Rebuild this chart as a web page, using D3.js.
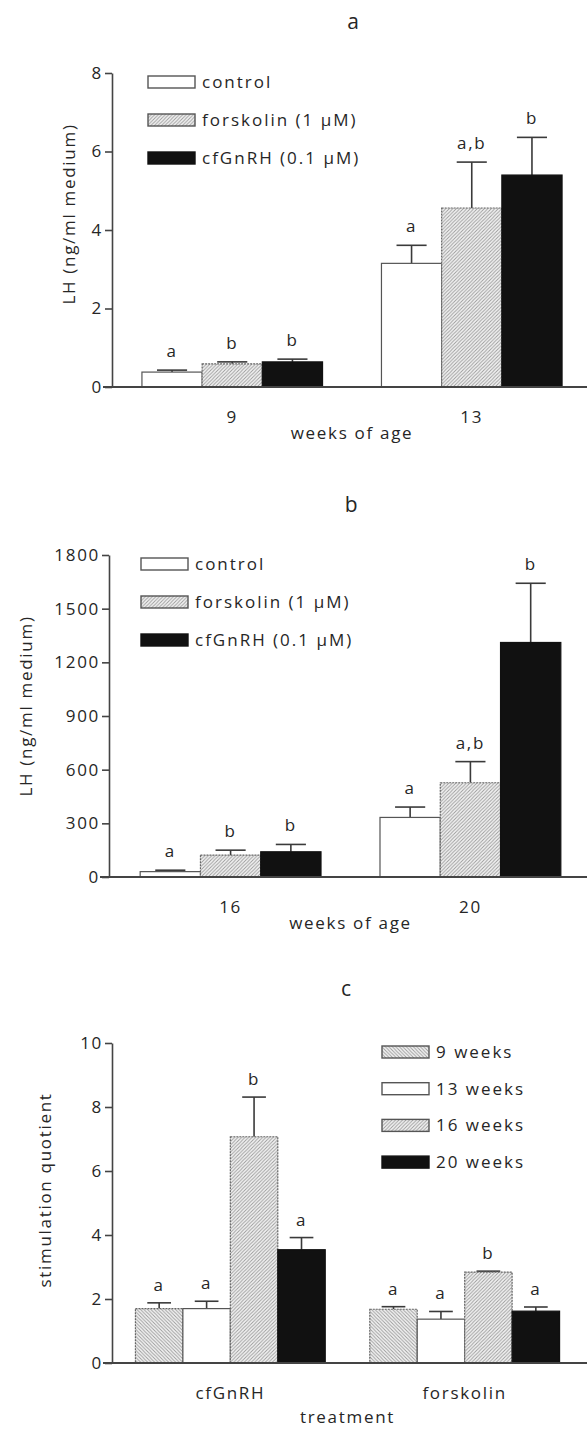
<!DOCTYPE html>
<html lang="en">
<head>
<meta charset="UTF-8">
<title>LH release</title>
<script src="https://d3js.org/d3.v7.min.js"></script>
<style>
  body { margin: 0; background: #fff; }
  svg text { font-family: "Open Sans", sans-serif; fill: #262626; letter-spacing: 1.7px; }
</style>
</head>
<body>
<div id="chart"></div>
<script>
// ---- data ----
var seriesAB = ["control", "forskolin (1 \u00b5M)", "cfGnRH (0.1 \u00b5M)"];

var groupsA = ["9", "13"];
var meanA = [[0.38, 0.59, 0.64], [3.15, 4.56, 5.40]];
var errA  = [[0.05, 0.05, 0.07], [0.46, 1.17, 0.96]];
var sigA  = [["a", "b", "b"], ["a", "a,b", "b"]];
var ticksA = [0, 2, 4, 6, 8];

var groupsB = ["16", "20"];
var meanB = [[30, 122, 141], [333, 527, 1311]];
var errB  = [[8, 28, 41], [58, 118, 331]];
var sigB  = [["a", "b", "b"], ["a", "a,b", "b"]];
var ticksB = [0, 300, 600, 900, 1200, 1500, 1800];

var seriesC = ["9 weeks", "13 weeks", "16 weeks", "20 weeks"];
var groupsC = ["cfGnRH", "forskolin"];
var meanC = [[1.70, 1.70, 7.07, 3.54], [1.68, 1.37, 2.84, 1.62]];
var errC  = [[0.18, 0.23, 1.24, 0.38], [0.08, 0.24, 0.03, 0.13]];
var sigC  = [["a", "a", "b", "a"], ["a", "a", "b", "a"]];
var ticksC = [0, 2, 4, 6, 8, 10];

var W = 587, H = 1429;
var svg = d3.select("#chart").append("svg")
  .attr("width", W).attr("height", H);

// hatch patterns
var defs = svg.append("defs");
function hatch(id, d) {
  var p = defs.append("pattern").attr("id", id)
    .attr("patternUnits", "userSpaceOnUse")
    .attr("width", 3.5).attr("height", 3.5);
  p.append("rect").attr("width", 3.5).attr("height", 3.5).attr("fill", "#f4f4f4");
  p.append("path").attr("d", d).attr("stroke", "#999").attr("stroke-width", 0.9);
}
hatch("fwd", "M-1,1 l2,-2 M0,3.5 l3.5,-3.5 M2.5,4.5 l2,-2");
hatch("back", "M-1,2.5 l2,2 M0,0 l3.5,3.5 M2.5,-1 l2,2");

var fills = {
  white: { fill: "#fff", stroke: "#555", dash: null },
  fwd:   { fill: "url(#fwd)", stroke: "#666", dash: "2,1" },
  back:  { fill: "url(#back)", stroke: "#666", dash: "2,1" },
  black: { fill: "#111", stroke: "#111", dash: null }
};

function panel(cfg) {
  var g = svg.append("g");
  var y = d3.scaleLinear().domain([0, cfg.ymax]).range([cfg.y0, cfg.y1]);
  var x0 = d3.scaleBand().domain(cfg.groups).range(cfg.xr)
    .paddingInner(cfg.padIn).paddingOuter(cfg.padOut);
  var x1 = d3.scaleBand().domain(d3.range(cfg.series.length))
    .range([0, x0.bandwidth()]);

  // title
  g.append("text").attr("x", cfg.title[1]).attr("y", cfg.title[2])
    .attr("text-anchor", "middle").style("font-size", "21px").text(cfg.title[0]);

  var rows = [];
  cfg.groups.forEach(function (gr, i) {
    cfg.series.forEach(function (s, j) {
      rows.push({ g: gr, j: j, m: cfg.mean[i][j], e: cfg.err[i][j], s: cfg.sig[i][j] });
    });
  });

  // error bars (drawn first, bar covers the lower part)
  var cap = x1.bandwidth() * 0.5;
  var eb = g.selectAll(".eb").data(rows).enter().append("g")
    .attr("stroke", "#3a3a3a").attr("stroke-width", 1.6);
  eb.append("line")
    .attr("x1", function (d) { return x0(d.g) + x1(d.j) + x1.bandwidth() / 2; })
    .attr("x2", function (d) { return x0(d.g) + x1(d.j) + x1.bandwidth() / 2; })
    .attr("y1", function (d) { return y(d.m); })
    .attr("y2", function (d) { return y(d.m + d.e); });
  eb.append("line")
    .attr("x1", function (d) { return x0(d.g) + x1(d.j) + x1.bandwidth() / 2 - cap / 2; })
    .attr("x2", function (d) { return x0(d.g) + x1(d.j) + x1.bandwidth() / 2 + cap / 2; })
    .attr("y1", function (d) { return y(d.m + d.e); })
    .attr("y2", function (d) { return y(d.m + d.e); });

  // bars
  g.selectAll(".bar").data(rows).enter().append("rect")
    .attr("x", function (d) { return x0(d.g) + x1(d.j); })
    .attr("y", function (d) { return y(d.m); })
    .attr("width", x1.bandwidth())
    .attr("height", function (d) { return y(0) - y(d.m); })
    .attr("fill", function (d) { return fills[cfg.fill[d.j]].fill; })
    .attr("stroke", function (d) { return fills[cfg.fill[d.j]].stroke; })
    .attr("stroke-dasharray", function (d) { return fills[cfg.fill[d.j]].dash; })
    .attr("stroke-width", 1.2);

  // significance letters
  g.selectAll(".sig").data(rows).enter().append("text")
    .attr("x", function (d) { return x0(d.g) + x1(d.j) + x1.bandwidth() / 2; })
    .attr("y", function (d) { return y(d.m + d.e) - cfg.sigGap; })
    .attr("text-anchor", "middle").style("font-size", "17px")
    .text(function (d) { return d.s; });

  // y axis
  var ya = g.append("g").attr("transform", "translate(" + cfg.xr[0] + ",0)")
    .call(d3.axisLeft(y).tickValues(cfg.ticks).tickFormat(d3.format("d"))
      .tickSize(7).tickSizeOuter(0).tickPadding(2));
  ya.selectAll("path, line").attr("stroke", "#444").attr("stroke-width", 1.6);
  ya.selectAll("text").style("font-size", "17px").attr("fill", "#262626")
    .style("font-family", "Open Sans, sans-serif");

  // x baseline and category labels
  g.append("line").attr("x1", cfg.xr[0] - 9).attr("x2", W)
    .attr("y1", y(0)).attr("y2", y(0))
    .attr("stroke", "#444").attr("stroke-width", 1.8);
  var xa = g.append("g").attr("transform", "translate(0," + y(0) + ")")
    .call(d3.axisBottom(x0).tickSize(0).tickPadding(cfg.xPad));
  xa.select(".domain").remove();
  xa.selectAll("text").style("font-size", "17px").attr("fill", "#262626")
    .style("font-family", "Open Sans, sans-serif");

  // axis titles
  g.append("text").attr("x", (x0(cfg.groups[0]) + x0(cfg.groups[1]) + x0.bandwidth()) / 2)
    .attr("y", y(0) + cfg.xTitleOff).attr("text-anchor", "middle")
    .style("font-size", "17px").text(cfg.xTitle);
  g.append("text")
    .attr("transform", "translate(" + cfg.yTitle[1] + "," + cfg.yTitle[2] + ") rotate(-90)")
    .attr("text-anchor", "middle").attr("dy", "0.35em")
    .style("font-size", "17px").text(cfg.yTitle[0]);

  // legend
  var lg = g.append("g");
  cfg.series.forEach(function (s, j) {
    var cy = cfg.legend.y + j * cfg.legend.step;
    var f = fills[cfg.fill[j]];
    lg.append("rect").attr("x", cfg.legend.x).attr("y", cy - 6)
      .attr("width", 47).attr("height", 12)
      .attr("fill", f.fill).attr("stroke", f.stroke === "#111" ? "#111" : "#555")
      .attr("stroke-width", 1.4);
    lg.append("text").attr("x", cfg.legend.x + 54).attr("y", cy).attr("dy", "0.35em")
      .style("font-size", "17px").style("letter-spacing", "2px").text(s);
  });
}

panel({
  title: ["a", 354, 29], groups: groupsA, series: seriesAB,
  mean: meanA, err: errA, sig: sigA, ticks: ticksA, ymax: 8,
  y0: 387, y1: 73, xr: [112, 592], padIn: 0.246, padOut: 0.125,
  fill: ["white", "fwd", "black"], sigGap: 13, xPad: 24, xTitleOff: 52,
  xTitle: "weeks of age", yTitle: ["LH (ng/ml medium)", 69, 214],
  legend: { x: 148, y: 82, step: 38 }
});

panel({
  title: ["b", 352, 512], groups: groupsB, series: seriesAB,
  mean: meanB, err: errB, sig: sigB, ticks: ticksB, ymax: 1800,
  y0: 877, y1: 555, xr: [109, 592], padIn: 0.246, padOut: 0.13,
  fill: ["white", "fwd", "black"], sigGap: 13, xPad: 24, xTitleOff: 52,
  xTitle: "weeks of age", yTitle: ["LH (ng/ml medium)", 26, 706],
  legend: { x: 141, y: 564, step: 38 }
});

panel({
  title: ["c", 347, 996], groups: groupsC, series: seriesC,
  mean: meanC, err: errC, sig: sigC, ticks: ticksC, ymax: 10,
  y0: 1363, y1: 1043, xr: [112, 583], padIn: 0.19, padOut: 0.1,
  fill: ["back", "white", "fwd", "black"], sigGap: 12, xPad: 24, xTitleOff: 60,
  xTitle: "treatment", yTitle: ["stimulation quotient", 45, 1190],
  legend: { x: 382, y: 1052, step: 36.7 }
});
</script>
</body>
</html>
